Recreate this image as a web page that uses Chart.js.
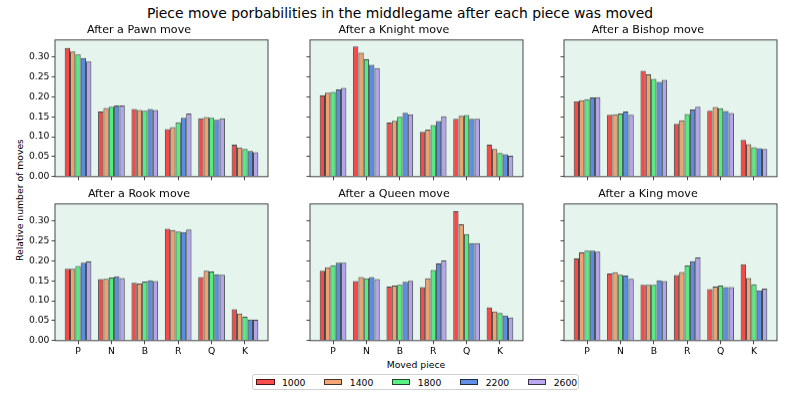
<!DOCTYPE html>
<html>
<head>
<meta charset="utf-8">
<script src="https://cdn.jsdelivr.net/npm/chart.js@4.4.1/dist/chart.umd.min.js"></script>
<style>
  html, body { margin: 0; padding: 0; background: #fff; }
  body { width: 800px; height: 400px; position: relative; overflow: hidden; font-family: 'DejaVu Sans', sans-serif; color: #000; }
  .panel { position: absolute; }
  .txt { position: absolute; white-space: nowrap; line-height: 1; }
  #suptitle { left: 400px; top: 7px; font-size: 13.9px; transform: translateX(-50%); }
  #xlabel { left: 416px; top: 360px; font-size: 9.26px; transform: translateX(-50%); }
  #ylabel { left: 20px; top: 200px; font-size: 9.26px; transform: translate(-50%, -50%) rotate(-90deg); }
  #legend { position: absolute; left: 252px; top: 374px; width: 327px; height: 16px; border: 1px solid #d0d0d0; border-radius: 3px; box-sizing: border-box; display: flex; align-items: center; padding-left: 3px; font-size: 9.26px; }
  .item { display: flex; align-items: center; margin-right: 18.5px; }
  .item:last-child { margin-right: 0; }
  .patch { width: 18.5px; height: 6.5px; box-sizing: border-box; border: 1px solid rgba(0,0,0,0.7); margin-right: 7.4px; }
</style>
</head>
<body>
<div id="suptitle" class="txt">Piece move porbabilities in the middlegame after each piece was moved</div>
<div id="ylabel" class="txt">Relative number of moves</div>
<div id="xlabel" class="txt">Moved piece</div>
<div id="legend"></div>

<script>
// ── Data ─────────────────────────────────────────────────────
const PIECES = ['P', 'N', 'B', 'R', 'Q', 'K'];
const RATINGS = ['1000', '1400', '1800', '2200', '2600'];
const Y_TICKS = [0, 0.05, 0.10, 0.15, 0.20, 0.25, 0.30];
const PANEL_TITLES = ['After a Pawn move', 'After a Knight move', 'After a Bishop move',
                      'After a Rook move', 'After a Queen move', 'After a King move'];

// one row per rating (1000 … 2600), values for P N B R Q K
const AFTER_PAWN = [
  [0.322, 0.163, 0.169, 0.119, 0.146, 0.080],
  [0.313, 0.172, 0.167, 0.124, 0.149, 0.073],
  [0.306, 0.175, 0.165, 0.136, 0.147, 0.069],
  [0.297, 0.178, 0.169, 0.147, 0.142, 0.064],
  [0.288, 0.178, 0.167, 0.158, 0.146, 0.061],
];
const AFTER_KNIGHT = [
  [0.203, 0.326, 0.135, 0.112, 0.145, 0.080],
  [0.210, 0.310, 0.140, 0.118, 0.152, 0.069],
  [0.212, 0.294, 0.150, 0.129, 0.154, 0.059],
  [0.218, 0.280, 0.160, 0.139, 0.145, 0.056],
  [0.222, 0.272, 0.156, 0.151, 0.145, 0.052],
];
const AFTER_BISHOP = [
  [0.189, 0.155, 0.265, 0.132, 0.165, 0.092],
  [0.191, 0.156, 0.256, 0.141, 0.174, 0.081],
  [0.194, 0.158, 0.245, 0.157, 0.171, 0.074],
  [0.198, 0.163, 0.237, 0.168, 0.164, 0.071],
  [0.199, 0.155, 0.242, 0.175, 0.159, 0.069],
];
const AFTER_ROOK = [
  [0.180, 0.154, 0.145, 0.280, 0.159, 0.079],
  [0.180, 0.155, 0.143, 0.277, 0.175, 0.068],
  [0.187, 0.158, 0.148, 0.273, 0.173, 0.060],
  [0.195, 0.161, 0.151, 0.272, 0.166, 0.053],
  [0.198, 0.157, 0.149, 0.278, 0.165, 0.052],
];
const AFTER_QUEEN = [
  [0.175, 0.149, 0.135, 0.134, 0.324, 0.083],
  [0.184, 0.159, 0.138, 0.156, 0.291, 0.073],
  [0.189, 0.156, 0.140, 0.177, 0.267, 0.069],
  [0.195, 0.159, 0.147, 0.193, 0.244, 0.063],
  [0.195, 0.154, 0.150, 0.201, 0.244, 0.058],
];
const AFTER_KING = [
  [0.206, 0.168, 0.140, 0.164, 0.129, 0.191],
  [0.221, 0.171, 0.140, 0.172, 0.135, 0.157],
  [0.225, 0.165, 0.140, 0.188, 0.138, 0.141],
  [0.225, 0.163, 0.151, 0.199, 0.134, 0.126],
  [0.223, 0.155, 0.149, 0.208, 0.134, 0.130],
];
const PANELS = [AFTER_PAWN, AFTER_KNIGHT, AFTER_BISHOP, AFTER_ROOK, AFTER_QUEEN, AFTER_KING];

// ── Style ────────────────────────────────────────────────────
const COLORS = ['rgba(255,0,0,.7)', 'rgba(240,128,58,.7)', 'rgba(20,235,80,.7)',
                'rgba(30,95,222,.7)', 'rgba(160,130,236,.7)'];
const EDGE = 'rgba(0,0,0,.7)';
const PLOT_BG = '#e5f5ee';
const FONT = 'DejaVu Sans';

// plot area geometry (px)
const PLOT_LEFT = [55, 310, 564];
const PLOT_TOP = [40, 204];
const PLOT_W = 213;
const PLOT_H = 136;
const YW = 45;          // y axis box width
const TITLE_PAD = 3.5;
const TITLE_SIZE = 11.1;
const TH = TITLE_SIZE * 1.2 + TITLE_PAD;
const XH = 24;          // x axis box height
const RP = 5;

Chart.defaults.font.family = FONT;
Chart.defaults.color = '#000';
Chart.defaults.animation = false;

// background fill + four spines
const frame = {
  id: 'frame',
  beforeDatasetsDraw(chart) {
    const { ctx, chartArea: a } = chart;
    ctx.save();
    ctx.fillStyle = PLOT_BG;
    ctx.fillRect(a.left, a.top, a.right - a.left, a.bottom - a.top);
    ctx.restore();
  },
  afterDatasetsDraw(chart) {
    const { ctx, chartArea: a } = chart;
    ctx.save();
    ctx.strokeStyle = '#333';
    ctx.lineWidth = 0.9;
    ctx.strokeRect(a.left, a.top, a.right - a.left, a.bottom - a.top);
    ctx.restore();
  },
};

// ── Panels ───────────────────────────────────────────────────
PANELS.forEach((rows, p) => {
  const col = p % 3, row = Math.floor(p / 3);
  const div = document.createElement('div');
  div.className = 'panel';
  div.style.left = (PLOT_LEFT[col] - YW) + 'px';
  div.style.top = (PLOT_TOP[row] - TH) + 'px';
  div.style.width = (YW + PLOT_W + RP) + 'px';
  div.style.height = (TH + PLOT_H + XH) + 'px';
  const canvas = document.createElement('canvas');
  div.appendChild(canvas);
  document.body.appendChild(div);

  new Chart(canvas, {
    type: 'bar',
    data: {
      datasets: rows.map((vals, r) => ({
        label: RATINGS[r],
        data: vals.map((v, i) => ({ x: i, y: v })),
        backgroundColor: COLORS[r],
        borderColor: EDGE,
        borderWidth: 1,
        categoryPercentage: 0.8,
        barPercentage: 1.0,
      })),
    },
    options: {
      responsive: true,
      maintainAspectRatio: false,
      layout: { padding: { top: 0, right: RP, bottom: 0, left: 0 } },
      plugins: {
        legend: { display: false },
        tooltip: { enabled: false },
        title: {
          display: true,
          text: PANEL_TITLES[p],
          font: { size: TITLE_SIZE, weight: 'normal', lineHeight: 1.2 },
          color: '#000',
          padding: { top: 0, bottom: TITLE_PAD },
        },
      },
      scales: {
        x: {
          type: 'linear',
          min: -0.69,
          max: 5.69,
          offset: false,
          afterBuildTicks: s => { s.ticks = PIECES.map((_, i) => ({ value: i })); },
          afterFit: s => { s.height = XH; },
          ticks: {
            font: { size: 9.26 },
            padding: 1.5,
            maxRotation: 0,
            autoSkip: false,
            callback: v => (row === 1 ? PIECES[v] : ''),
          },
          grid: { offset: false, drawOnChartArea: false, drawTicks: true, tickLength: 3.5, tickColor: '#333', lineWidth: 0.9 },
          border: { display: false },
        },
        y: {
          min: 0,
          max: 0.342,
          afterBuildTicks: s => { s.ticks = Y_TICKS.map(v => ({ value: v })); },
          afterFit: s => { s.width = YW; },
          ticks: {
            font: { size: 9.26 },
            padding: 2,
            callback: v => (col === 0 ? v.toFixed(2) : ''),
          },
          grid: { drawOnChartArea: false, drawTicks: true, tickLength: 3.5, tickColor: '#333', lineWidth: 0.9 },
          border: { display: false },
        },
      },
    },
    plugins: [frame],
  });
});

// ── Legend ───────────────────────────────────────────────────
document.getElementById('legend').innerHTML = RATINGS.map((r, i) =>
  `<div class="item"><div class="patch" style="background:${COLORS[i]}"></div><span>${r}</span></div>`
).join('');
</script>
</body>
</html>
